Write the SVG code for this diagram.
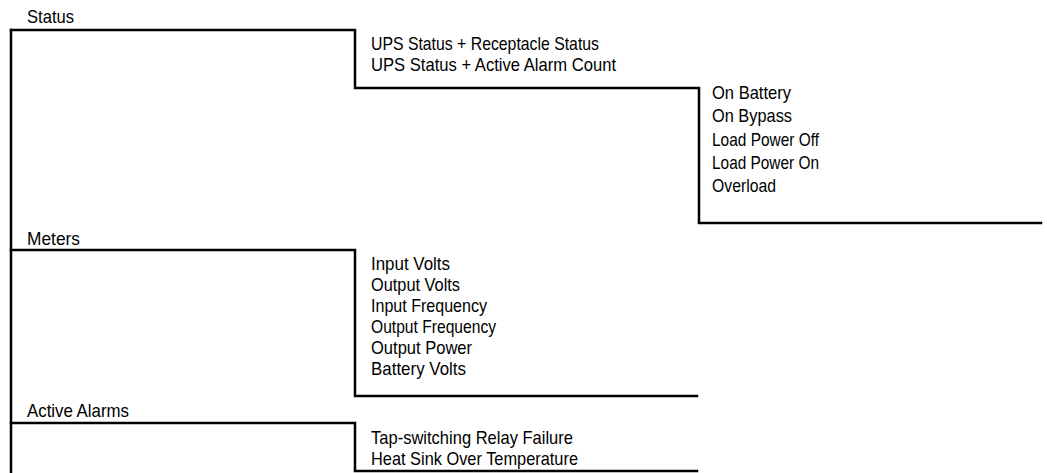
<svg xmlns="http://www.w3.org/2000/svg" width="1047" height="473" viewBox="0 0 1047 473">
<style>
text{font-family:"Liberation Sans","Arial",sans-serif;font-size:19px;fill:#000}
.ln{fill:none;stroke:#000;stroke-width:2.5;stroke-linecap:square}
</style>
<rect width="1047" height="473" fill="#fff"/>
<g id="connectors">
<path class="ln" d="M11,30 V473"/>
<path class="ln" d="M11,30 H355 V88 H699 V223 H1041"/>
<path class="ln" d="M11,250 H355 V396 H697"/>
<path class="ln" d="M11,423 H355 V471 H697"/>
</g>
<g id="status"><text x="27" y="23" textLength="47" lengthAdjust="spacingAndGlyphs">Status</text></g>
<g id="status-display">
<text x="371" y="50" textLength="228" lengthAdjust="spacingAndGlyphs">UPS Status + Receptacle Status</text>
<text x="371" y="71" textLength="245" lengthAdjust="spacingAndGlyphs">UPS Status + Active Alarm Count</text>
</g>
<g id="status-list">
<text x="712" y="99" textLength="79" lengthAdjust="spacingAndGlyphs">On Battery</text>
<text x="712" y="122" textLength="80" lengthAdjust="spacingAndGlyphs">On Bypass</text>
<text x="712" y="146" textLength="107" lengthAdjust="spacingAndGlyphs">Load Power Off</text>
<text x="712" y="169" textLength="107" lengthAdjust="spacingAndGlyphs">Load Power On</text>
<text x="712" y="192" textLength="64" lengthAdjust="spacingAndGlyphs">Overload</text>
</g>
<g id="meters"><text x="27" y="245" textLength="53" lengthAdjust="spacingAndGlyphs">Meters</text></g>
<g id="meters-list">
<text x="371" y="270" textLength="79" lengthAdjust="spacingAndGlyphs">Input Volts</text>
<text x="371" y="291" textLength="89" lengthAdjust="spacingAndGlyphs">Output Volts</text>
<text x="371" y="312" textLength="116" lengthAdjust="spacingAndGlyphs">Input Frequency</text>
<text x="371" y="333" textLength="125" lengthAdjust="spacingAndGlyphs">Output Frequency</text>
<text x="371" y="354" textLength="101" lengthAdjust="spacingAndGlyphs">Output Power</text>
<text x="371" y="375" textLength="95" lengthAdjust="spacingAndGlyphs">Battery Volts</text>
</g>
<g id="active-alarms"><text x="27" y="417" textLength="102" lengthAdjust="spacingAndGlyphs">Active Alarms</text></g>
<g id="alarms-list">
<text x="371" y="444" textLength="202" lengthAdjust="spacingAndGlyphs">Tap-switching Relay Failure</text>
<text x="371" y="465" textLength="207" lengthAdjust="spacingAndGlyphs">Heat Sink Over Temperature</text>
</g>
</svg>
